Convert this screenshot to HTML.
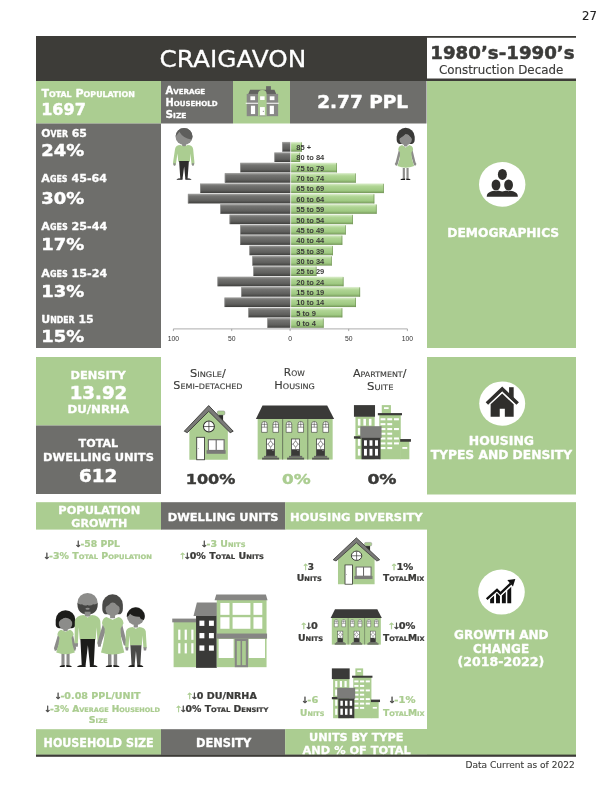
<!DOCTYPE html>
<html><head><meta charset="utf-8"><title>Craigavon</title>
<style>
html,body{margin:0;padding:0;background:#fff;}
body{width:612px;height:792px;overflow:hidden;}
svg{display:block;}
text{font-family:"DejaVu Sans","Liberation Sans",sans-serif;white-space:pre;}
.cal{font-family:"Liberation Sans","DejaVu Sans",sans-serif;}
</style></head><body>
<svg width="612" height="792" viewBox="0 0 612 792">
<rect x="36" y="36" width="392" height="45" fill="#3d3c38" />
<rect x="427" y="36" width="149" height="45" fill="#3d3c38" />
<rect x="427" y="37.8" width="149" height="40.7" fill="#fff" />
<rect x="36" y="81" width="125" height="42.5" fill="#abcd91" />
<rect x="161" y="81" width="72" height="42.5" fill="#6e6e6b" />
<rect x="233" y="81" width="57" height="42.5" fill="#abcd91" />
<rect x="290" y="81" width="136.5" height="42.5" fill="#6e6e6b" />
<rect x="36" y="123.5" width="125" height="224.5" fill="#6e6e6b" />
<rect x="427" y="81" width="149" height="267" fill="#abcd91" />
<rect x="36" y="357" width="125" height="68.5" fill="#abcd91" />
<rect x="36" y="425.5" width="125" height="68.5" fill="#6e6e6b" />
<rect x="427" y="357" width="149" height="137.5" fill="#abcd91" />
<rect x="36" y="502.2" width="125.5" height="27.4" fill="#abcd91" />
<rect x="161" y="502.2" width="124.3" height="27.4" fill="#6e6e6b" />
<rect x="285.2" y="502.2" width="290.8" height="27.4" fill="#abcd91" />
<rect x="427" y="529" width="149" height="226" fill="#abcd91" />
<rect x="36" y="729.2" width="125.5" height="25.6" fill="#abcd91" />
<rect x="161" y="729.2" width="124.3" height="25.6" fill="#6e6e6b" />
<rect x="285.2" y="729" width="290.8" height="25.8" fill="#abcd91" />
<rect x="36" y="754.6" width="540" height="2.2" fill="#3d3c38" />
<text x="582.0" y="19.7" font-size="12" font-weight="normal" fill="#222" stroke="#222" stroke-width="0.14" stroke-linejoin="round" textLength="14.9" lengthAdjust="spacingAndGlyphs">27</text>
<text x="159.4" y="67.3" font-size="23.5" font-weight="normal" fill="#fff" stroke="#fff" stroke-width="0.28" stroke-linejoin="round" textLength="147.0" lengthAdjust="spacingAndGlyphs">CRAIGAVON</text>
<text x="430.3" y="59.0" font-size="17.5" font-weight="bold" fill="#3b3b39" stroke="#3b3b39" stroke-width="0.49" stroke-linejoin="round" textLength="144.3" lengthAdjust="spacingAndGlyphs">1980’s-1990’s</text>
<text x="438.9" y="74.3" font-size="12.5" font-weight="normal" fill="#3b3b39" stroke="#3b3b39" stroke-width="0.15" stroke-linejoin="round" textLength="124.4" lengthAdjust="spacingAndGlyphs">Construction Decade</text>
<text x="41.4" y="97.0" font-size="11" font-weight="bold" fill="#fff" stroke="#fff" stroke-width="0.31" stroke-linejoin="round" textLength="93.4" lengthAdjust="spacingAndGlyphs">T<tspan font-size="7.86">OTAL</tspan> P<tspan font-size="7.86">OPULATION</tspan></text>
<text x="41.2" y="115.4" font-size="15.2" font-weight="bold" fill="#fff" stroke="#fff" stroke-width="0.43" stroke-linejoin="round" textLength="44.6" lengthAdjust="spacingAndGlyphs">1697</text>
<text x="165.5" y="93.7" font-size="9.6" font-weight="bold" fill="#fff" stroke="#fff" stroke-width="0.27" stroke-linejoin="round" textLength="39.7" lengthAdjust="spacingAndGlyphs">A<tspan font-size="6.86">VERAGE</tspan></text>
<text x="165.5" y="106.0" font-size="9.6" font-weight="bold" fill="#fff" stroke="#fff" stroke-width="0.27" stroke-linejoin="round" textLength="52.0" lengthAdjust="spacingAndGlyphs">H<tspan font-size="6.86">OUSEHOLD</tspan></text>
<text x="165.5" y="117.7" font-size="9.6" font-weight="bold" fill="#fff" stroke="#fff" stroke-width="0.27" stroke-linejoin="round" textLength="21.0" lengthAdjust="spacingAndGlyphs">S<tspan font-size="6.86">IZE</tspan></text>
<text x="317.3" y="108.4" font-size="17.5" font-weight="bold" fill="#fff" stroke="#fff" stroke-width="0.49" stroke-linejoin="round" textLength="90.6" lengthAdjust="spacingAndGlyphs">2.77 PPL</text>
<text x="41.3" y="136.8" font-size="11.3" font-weight="bold" fill="#fff" stroke="#fff" stroke-width="0.32" stroke-linejoin="round" textLength="45.6" lengthAdjust="spacingAndGlyphs">O<tspan font-size="8.08">VER</tspan> 65</text>
<text x="41.2" y="155.9" font-size="16.2" font-weight="bold" fill="#fff" stroke="#fff" stroke-width="0.45" stroke-linejoin="round" textLength="42.9" lengthAdjust="spacingAndGlyphs">24%</text>
<text x="41.3" y="182.1" font-size="11.3" font-weight="bold" fill="#fff" stroke="#fff" stroke-width="0.32" stroke-linejoin="round" textLength="65.7" lengthAdjust="spacingAndGlyphs">A<tspan font-size="8.08">GES</tspan> 45-64</text>
<text x="41.2" y="204.2" font-size="16.2" font-weight="bold" fill="#fff" stroke="#fff" stroke-width="0.45" stroke-linejoin="round" textLength="42.9" lengthAdjust="spacingAndGlyphs">30%</text>
<text x="41.3" y="230.1" font-size="11.3" font-weight="bold" fill="#fff" stroke="#fff" stroke-width="0.32" stroke-linejoin="round" textLength="65.9" lengthAdjust="spacingAndGlyphs">A<tspan font-size="8.08">GES</tspan> 25-44</text>
<text x="41.2" y="250.0" font-size="16.2" font-weight="bold" fill="#fff" stroke="#fff" stroke-width="0.45" stroke-linejoin="round" textLength="42.9" lengthAdjust="spacingAndGlyphs">17%</text>
<text x="41.3" y="276.9" font-size="11.3" font-weight="bold" fill="#fff" stroke="#fff" stroke-width="0.32" stroke-linejoin="round" textLength="65.9" lengthAdjust="spacingAndGlyphs">A<tspan font-size="8.08">GES</tspan> 15-24</text>
<text x="41.2" y="297.0" font-size="16.2" font-weight="bold" fill="#fff" stroke="#fff" stroke-width="0.45" stroke-linejoin="round" textLength="42.9" lengthAdjust="spacingAndGlyphs">13%</text>
<text x="41.3" y="322.7" font-size="11.3" font-weight="bold" fill="#fff" stroke="#fff" stroke-width="0.32" stroke-linejoin="round" textLength="52.4" lengthAdjust="spacingAndGlyphs">U<tspan font-size="8.08">NDER</tspan> 15</text>
<text x="41.2" y="341.9" font-size="16.2" font-weight="bold" fill="#fff" stroke="#fff" stroke-width="0.45" stroke-linejoin="round" textLength="42.9" lengthAdjust="spacingAndGlyphs">15%</text>
<text x="447.3" y="237.2" font-size="12" font-weight="bold" fill="#fff" stroke="#fff" stroke-width="0.34" stroke-linejoin="round" textLength="111.9" lengthAdjust="spacingAndGlyphs">DEMOGRAPHICS</text>
<text x="70.5" y="378.8" font-size="11.2" font-weight="bold" fill="#fff" stroke="#fff" stroke-width="0.31" stroke-linejoin="round" textLength="55.2" lengthAdjust="spacingAndGlyphs">DENSITY</text>
<text x="69.7" y="399.4" font-size="17.5" font-weight="bold" fill="#fff" stroke="#fff" stroke-width="0.49" stroke-linejoin="round" textLength="57.5" lengthAdjust="spacingAndGlyphs">13.92</text>
<text x="67.5" y="412.9" font-size="11.3" font-weight="bold" fill="#fff" stroke="#fff" stroke-width="0.32" stroke-linejoin="round" textLength="61.5" lengthAdjust="spacingAndGlyphs">DU/NRHA</text>
<text x="78.6" y="447.3" font-size="11.2" font-weight="bold" fill="#fff" stroke="#fff" stroke-width="0.31" stroke-linejoin="round" textLength="39.5" lengthAdjust="spacingAndGlyphs">TOTAL</text>
<text x="43.1" y="461.0" font-size="11.2" font-weight="bold" fill="#fff" stroke="#fff" stroke-width="0.31" stroke-linejoin="round" textLength="110.8" lengthAdjust="spacingAndGlyphs">DWELLING UNITS</text>
<text x="79.1" y="482.3" font-size="17" font-weight="bold" fill="#fff" stroke="#fff" stroke-width="0.48" stroke-linejoin="round" textLength="38.2" lengthAdjust="spacingAndGlyphs">612</text>
<text x="190.0" y="376.8" font-size="10.6" font-weight="normal" fill="#3b3b39" stroke="#3b3b39" stroke-width="0.13" stroke-linejoin="round" textLength="35.8" lengthAdjust="spacingAndGlyphs">S<tspan font-size="7.58">INGLE</tspan>/</text>
<text x="173.3" y="389.4" font-size="10.6" font-weight="normal" fill="#3b3b39" stroke="#3b3b39" stroke-width="0.13" stroke-linejoin="round" textLength="69.2" lengthAdjust="spacingAndGlyphs">S<tspan font-size="7.58">EMI</tspan>-<tspan font-size="7.58">DETACHED</tspan></text>
<text x="283.8" y="375.6" font-size="10.6" font-weight="normal" fill="#3b3b39" stroke="#3b3b39" stroke-width="0.13" stroke-linejoin="round" textLength="21.0" lengthAdjust="spacingAndGlyphs">R<tspan font-size="7.58">OW</tspan></text>
<text x="274.3" y="389.3" font-size="10.6" font-weight="normal" fill="#3b3b39" stroke="#3b3b39" stroke-width="0.13" stroke-linejoin="round" textLength="40.6" lengthAdjust="spacingAndGlyphs">H<tspan font-size="7.58">OUSING</tspan></text>
<text x="352.9" y="376.8" font-size="10.6" font-weight="normal" fill="#3b3b39" stroke="#3b3b39" stroke-width="0.13" stroke-linejoin="round" textLength="53.6" lengthAdjust="spacingAndGlyphs">A<tspan font-size="7.58">PARTMENT</tspan>/</text>
<text x="367.0" y="389.5" font-size="10.6" font-weight="normal" fill="#3b3b39" stroke="#3b3b39" stroke-width="0.13" stroke-linejoin="round" textLength="26.5" lengthAdjust="spacingAndGlyphs">S<tspan font-size="7.58">UITE</tspan></text>
<text x="185.7" y="483.8" font-size="14.5" font-weight="bold" fill="#3b3b39" stroke="#3b3b39" stroke-width="0.41" stroke-linejoin="round" textLength="49.8" lengthAdjust="spacingAndGlyphs">100%</text>
<text x="281.9" y="483.8" font-size="14.5" font-weight="bold" fill="#abcd91" stroke="#abcd91" stroke-width="0.41" stroke-linejoin="round" textLength="28.7" lengthAdjust="spacingAndGlyphs">0%</text>
<text x="367.4" y="483.8" font-size="14.5" font-weight="bold" fill="#3b3b39" stroke="#3b3b39" stroke-width="0.41" stroke-linejoin="round" textLength="29.2" lengthAdjust="spacingAndGlyphs">0%</text>
<text x="468.8" y="445.0" font-size="12" font-weight="bold" fill="#fff" stroke="#fff" stroke-width="0.34" stroke-linejoin="round" textLength="65.2" lengthAdjust="spacingAndGlyphs">HOUSING</text>
<text x="430.7" y="458.8" font-size="12" font-weight="bold" fill="#fff" stroke="#fff" stroke-width="0.34" stroke-linejoin="round" textLength="141.4" lengthAdjust="spacingAndGlyphs">TYPES AND DENSITY</text>
<text x="58.3" y="513.9" font-size="11.2" font-weight="bold" fill="#fff" stroke="#fff" stroke-width="0.31" stroke-linejoin="round" textLength="81.9" lengthAdjust="spacingAndGlyphs">POPULATION</text>
<text x="71.3" y="526.9" font-size="11.2" font-weight="bold" fill="#fff" stroke="#fff" stroke-width="0.31" stroke-linejoin="round" textLength="56.1" lengthAdjust="spacingAndGlyphs">GROWTH</text>
<text x="167.7" y="520.5" font-size="11.2" font-weight="bold" fill="#fff" stroke="#fff" stroke-width="0.31" stroke-linejoin="round" textLength="110.8" lengthAdjust="spacingAndGlyphs">DWELLING UNITS</text>
<text x="290.1" y="520.6" font-size="11.2" font-weight="bold" fill="#fff" stroke="#fff" stroke-width="0.31" stroke-linejoin="round" textLength="132.5" lengthAdjust="spacingAndGlyphs">HOUSING DIVERSITY</text>
<text x="43.6" y="746.9" font-size="11.5" font-weight="bold" fill="#fff" stroke="#fff" stroke-width="0.32" stroke-linejoin="round" textLength="110.1" lengthAdjust="spacingAndGlyphs">HOUSEHOLD SIZE</text>
<text x="196.0" y="746.9" font-size="11.5" font-weight="bold" fill="#fff" stroke="#fff" stroke-width="0.32" stroke-linejoin="round" textLength="55.4" lengthAdjust="spacingAndGlyphs">DENSITY</text>
<text x="309.1" y="741.2" font-size="11.2" font-weight="bold" fill="#fff" stroke="#fff" stroke-width="0.31" stroke-linejoin="round" textLength="94.4" lengthAdjust="spacingAndGlyphs">UNITS BY TYPE</text>
<text x="302.6" y="753.9" font-size="11.2" font-weight="bold" fill="#fff" stroke="#fff" stroke-width="0.31" stroke-linejoin="round" textLength="108.2" lengthAdjust="spacingAndGlyphs">AND % OF TOTAL</text>
<text x="454.0" y="639.2" font-size="12" font-weight="bold" fill="#fff" stroke="#fff" stroke-width="0.34" stroke-linejoin="round" textLength="94.6" lengthAdjust="spacingAndGlyphs">GROWTH AND</text>
<text x="473.1" y="652.9" font-size="12" font-weight="bold" fill="#fff" stroke="#fff" stroke-width="0.34" stroke-linejoin="round" textLength="56.0" lengthAdjust="spacingAndGlyphs">CHANGE</text>
<text x="457.4" y="666.3" font-size="12" font-weight="bold" fill="#fff" stroke="#fff" stroke-width="0.34" stroke-linejoin="round" textLength="86.9" lengthAdjust="spacingAndGlyphs">(2018-2022)</text>
<text x="465.5" y="767.8" font-size="9" font-weight="normal" fill="#3b3b39" stroke="#3b3b39" stroke-width="0.11" stroke-linejoin="round" textLength="109.2" lengthAdjust="spacingAndGlyphs">Data Current as of 2022</text>
<text x="76.1" y="547.0" font-size="8.7" font-weight="bold" fill="#abcd91" stroke="#abcd91" stroke-width="0.24" stroke-linejoin="round" textLength="45.5" lengthAdjust="spacingAndGlyphs"><tspan fill="#3b3b39" stroke="#3b3b39" stroke-width="0.3" font-weight="normal" font-size="8.44" dx="-1.6">↓</tspan><tspan dx="-1.5">-58 PPL</tspan></text>
<text x="44.6" y="559.3" font-size="8.7" font-weight="bold" fill="#abcd91" stroke="#abcd91" stroke-width="0.24" stroke-linejoin="round" textLength="108.9" lengthAdjust="spacingAndGlyphs"><tspan fill="#3b3b39" stroke="#3b3b39" stroke-width="0.3" font-weight="normal" font-size="8.44" dx="-1.6">↓</tspan><tspan dx="-1.5">-3% T<tspan font-size="6.22">OTAL</tspan> P<tspan font-size="6.22">OPULATION</tspan></tspan></text>
<text x="202.2" y="546.8" font-size="8.7" font-weight="bold" fill="#abcd91" stroke="#abcd91" stroke-width="0.24" stroke-linejoin="round" textLength="44.9" lengthAdjust="spacingAndGlyphs"><tspan fill="#3b3b39" stroke="#3b3b39" stroke-width="0.3" font-weight="normal" font-size="8.44" dx="-1.6">↓</tspan><tspan dx="-1.5">-3 U<tspan font-size="6.22">NITS</tspan></tspan></text>
<text x="180.3" y="559.4" font-size="8.7" font-weight="bold" fill="#3b3b39" stroke="#3b3b39" stroke-width="0.24" stroke-linejoin="round" textLength="85.3" lengthAdjust="spacingAndGlyphs"><tspan fill="#abcd91" stroke="#abcd91" stroke-width="0.3" font-weight="normal" font-size="8.44" dx="-1.6">↑</tspan><tspan fill="#3b3b39" stroke="#3b3b39" stroke-width="0.3" font-weight="normal" font-size="8.44" dx="-2.6">↓</tspan><tspan dx="-1.5">0% T<tspan font-size="6.22">OTAL</tspan> U<tspan font-size="6.22">NITS</tspan></tspan></text>
<text x="55.9" y="699.1" font-size="8.7" font-weight="bold" fill="#abcd91" stroke="#abcd91" stroke-width="0.24" stroke-linejoin="round" textLength="86.3" lengthAdjust="spacingAndGlyphs"><tspan fill="#3b3b39" stroke="#3b3b39" stroke-width="0.3" font-weight="normal" font-size="8.44" dx="-1.6">↓</tspan><tspan dx="-1.5">-0.08 PPL/UNIT</tspan></text>
<text x="45.7" y="711.9" font-size="8.7" font-weight="bold" fill="#abcd91" stroke="#abcd91" stroke-width="0.24" stroke-linejoin="round" textLength="115.7" lengthAdjust="spacingAndGlyphs"><tspan fill="#3b3b39" stroke="#3b3b39" stroke-width="0.3" font-weight="normal" font-size="8.44" dx="-1.6">↓</tspan><tspan dx="-1.5">-3% A<tspan font-size="6.22">VERAGE</tspan> H<tspan font-size="6.22">OUSEHOLD</tspan></tspan></text>
<text x="88.8" y="722.5" font-size="8.7" font-weight="bold" fill="#abcd91" stroke="#abcd91" stroke-width="0.24" stroke-linejoin="round" textLength="18.9" lengthAdjust="spacingAndGlyphs">S<tspan font-size="6.22">IZE</tspan></text>
<text x="187.3" y="699.1" font-size="8.7" font-weight="bold" fill="#3b3b39" stroke="#3b3b39" stroke-width="0.24" stroke-linejoin="round" textLength="71.1" lengthAdjust="spacingAndGlyphs"><tspan fill="#abcd91" stroke="#abcd91" stroke-width="0.3" font-weight="normal" font-size="8.44" dx="-1.6">↑</tspan><tspan fill="#3b3b39" stroke="#3b3b39" stroke-width="0.3" font-weight="normal" font-size="8.44" dx="-2.6">↓</tspan><tspan dx="-1.5">0 DU/NRHA</tspan></text>
<text x="176.3" y="711.9" font-size="8.7" font-weight="bold" fill="#3b3b39" stroke="#3b3b39" stroke-width="0.24" stroke-linejoin="round" textLength="93.6" lengthAdjust="spacingAndGlyphs"><tspan fill="#abcd91" stroke="#abcd91" stroke-width="0.3" font-weight="normal" font-size="8.44" dx="-1.6">↑</tspan><tspan fill="#3b3b39" stroke="#3b3b39" stroke-width="0.3" font-weight="normal" font-size="8.44" dx="-2.6">↓</tspan><tspan dx="-1.5">0% T<tspan font-size="6.22">OTAL</tspan> D<tspan font-size="6.22">ENSITY</tspan></tspan></text>
<text x="303.7" y="569.5" font-size="8.7" font-weight="bold" fill="#3b3b39" stroke="#3b3b39" stroke-width="0.24" stroke-linejoin="round" textLength="11.9" lengthAdjust="spacingAndGlyphs"><tspan fill="#abcd91" stroke="#abcd91" stroke-width="0.3" font-weight="normal" font-size="8.44" dx="-1.6">↑</tspan><tspan dx="-1.5">3</tspan></text>
<text x="296.7" y="580.8" font-size="8.7" font-weight="bold" fill="#3b3b39" stroke="#3b3b39" stroke-width="0.24" stroke-linejoin="round" textLength="25.1" lengthAdjust="spacingAndGlyphs">U<tspan font-size="6.22">NITS</tspan></text>
<text x="391.6" y="569.5" font-size="8.7" font-weight="bold" fill="#3b3b39" stroke="#3b3b39" stroke-width="0.24" stroke-linejoin="round" textLength="23.4" lengthAdjust="spacingAndGlyphs"><tspan fill="#abcd91" stroke="#abcd91" stroke-width="0.3" font-weight="normal" font-size="8.44" dx="-1.6">↑</tspan><tspan dx="-1.5">1%</tspan></text>
<text x="383.0" y="580.8" font-size="8.7" font-weight="bold" fill="#3b3b39" stroke="#3b3b39" stroke-width="0.24" stroke-linejoin="round" textLength="41.3" lengthAdjust="spacingAndGlyphs">T<tspan font-size="6.22">OTAL</tspan>M<tspan font-size="6.22">IX</tspan></text>
<text x="301.4" y="629.3" font-size="8.7" font-weight="bold" fill="#3b3b39" stroke="#3b3b39" stroke-width="0.24" stroke-linejoin="round" textLength="18.1" lengthAdjust="spacingAndGlyphs"><tspan fill="#abcd91" stroke="#abcd91" stroke-width="0.3" font-weight="normal" font-size="8.44" dx="-1.6">↑</tspan><tspan fill="#3b3b39" stroke="#3b3b39" stroke-width="0.3" font-weight="normal" font-size="8.44" dx="-2.6">↓</tspan><tspan dx="-1.5">0</tspan></text>
<text x="298.0" y="640.5" font-size="8.7" font-weight="bold" fill="#3b3b39" stroke="#3b3b39" stroke-width="0.24" stroke-linejoin="round" textLength="25.1" lengthAdjust="spacingAndGlyphs">U<tspan font-size="6.22">NITS</tspan></text>
<text x="389.0" y="629.3" font-size="8.7" font-weight="bold" fill="#3b3b39" stroke="#3b3b39" stroke-width="0.24" stroke-linejoin="round" textLength="28.1" lengthAdjust="spacingAndGlyphs"><tspan fill="#abcd91" stroke="#abcd91" stroke-width="0.3" font-weight="normal" font-size="8.44" dx="-1.6">↑</tspan><tspan fill="#3b3b39" stroke="#3b3b39" stroke-width="0.3" font-weight="normal" font-size="8.44" dx="-2.6">↓</tspan><tspan dx="-1.5">0%</tspan></text>
<text x="383.0" y="640.5" font-size="8.7" font-weight="bold" fill="#3b3b39" stroke="#3b3b39" stroke-width="0.24" stroke-linejoin="round" textLength="41.5" lengthAdjust="spacingAndGlyphs">T<tspan font-size="6.22">OTAL</tspan>M<tspan font-size="6.22">IX</tspan></text>
<text x="302.7" y="703.3" font-size="8.7" font-weight="bold" fill="#abcd91" stroke="#abcd91" stroke-width="0.24" stroke-linejoin="round" textLength="17.1" lengthAdjust="spacingAndGlyphs"><tspan fill="#3b3b39" stroke="#3b3b39" stroke-width="0.3" font-weight="normal" font-size="8.44" dx="-1.6">↓</tspan><tspan dx="-1.5">-6</tspan></text>
<text x="300.1" y="716.3" font-size="8.7" font-weight="bold" fill="#abcd91" stroke="#abcd91" stroke-width="0.24" stroke-linejoin="round" textLength="24.3" lengthAdjust="spacingAndGlyphs">U<tspan font-size="6.22">NITS</tspan></text>
<text x="389.5" y="703.3" font-size="8.7" font-weight="bold" fill="#abcd91" stroke="#abcd91" stroke-width="0.24" stroke-linejoin="round" textLength="27.6" lengthAdjust="spacingAndGlyphs"><tspan fill="#3b3b39" stroke="#3b3b39" stroke-width="0.3" font-weight="normal" font-size="8.44" dx="-1.6">↓</tspan><tspan dx="-1.5">-1%</tspan></text>
<text x="383.0" y="716.3" font-size="8.7" font-weight="bold" fill="#abcd91" stroke="#abcd91" stroke-width="0.24" stroke-linejoin="round" textLength="41.5" lengthAdjust="spacingAndGlyphs">T<tspan font-size="6.22">OTAL</tspan>M<tspan font-size="6.22">IX</tspan></text>
<defs>
<linearGradient id="gm" x1="0" y1="0" x2="0" y2="1"><stop offset="0" stop-color="#b0b0ae"/><stop offset="0.12" stop-color="#8a8a88"/><stop offset="0.25" stop-color="#737371"/><stop offset="0.7" stop-color="#5f5f5d"/><stop offset="0.9" stop-color="#4a4a48"/><stop offset="1" stop-color="#3a3a38"/></linearGradient>
<linearGradient id="gf" x1="0" y1="0" x2="0" y2="1"><stop offset="0" stop-color="#e4f2d8"/><stop offset="0.14" stop-color="#c6e2b0"/><stop offset="0.3" stop-color="#b0d594"/><stop offset="0.72" stop-color="#9fc982"/><stop offset="0.9" stop-color="#85ab68"/><stop offset="1" stop-color="#6d9052"/></linearGradient>
</defs>
<rect x="282.2" y="141.90" width="8.1" height="9.75" fill="url(#gm)"/>
<rect x="282.2" y="142.40" width="0.7" height="8.95" fill="#9a9a98" opacity="0.8"/>
<rect x="291.1" y="141.90" width="10.8" height="9.75" fill="url(#gf)"/>
<rect x="301.2" y="142.40" width="0.7" height="9.25" fill="#6d9052" opacity="0.85"/>
<text class="cal" x="296.3" y="150.00" font-size="7.5" font-weight="bold" fill="#3c3c3a">85 +</text>
<rect x="274.4" y="152.26" width="15.9" height="9.75" fill="url(#gm)"/>
<rect x="274.4" y="152.76" width="0.7" height="8.95" fill="#9a9a98" opacity="0.8"/>
<rect x="291.1" y="152.26" width="9.0" height="9.75" fill="url(#gf)"/>
<rect x="299.4" y="152.76" width="0.7" height="9.25" fill="#6d9052" opacity="0.85"/>
<text class="cal" x="296.3" y="160.36" font-size="7.5" font-weight="bold" fill="#3c3c3a">80 to 84</text>
<rect x="240.2" y="162.62" width="50.1" height="9.75" fill="url(#gm)"/>
<rect x="240.2" y="163.12" width="0.7" height="8.95" fill="#9a9a98" opacity="0.8"/>
<rect x="291.1" y="162.62" width="45.9" height="9.75" fill="url(#gf)"/>
<rect x="336.3" y="163.12" width="0.7" height="9.25" fill="#6d9052" opacity="0.85"/>
<text class="cal" x="296.3" y="170.72" font-size="7.5" font-weight="bold" fill="#3c3c3a">75 to 79</text>
<rect x="224.8" y="172.98" width="65.5" height="9.75" fill="url(#gm)"/>
<rect x="224.8" y="173.48" width="0.7" height="8.95" fill="#9a9a98" opacity="0.8"/>
<rect x="291.1" y="172.98" width="64.6" height="9.75" fill="url(#gf)"/>
<rect x="355.0" y="173.48" width="0.7" height="9.25" fill="#6d9052" opacity="0.85"/>
<text class="cal" x="296.3" y="181.08" font-size="7.5" font-weight="bold" fill="#3c3c3a">70 to 74</text>
<rect x="200.1" y="183.34" width="90.2" height="9.75" fill="url(#gm)"/>
<rect x="200.1" y="183.84" width="0.7" height="8.95" fill="#9a9a98" opacity="0.8"/>
<rect x="291.1" y="183.34" width="92.7" height="9.75" fill="url(#gf)"/>
<rect x="383.1" y="183.84" width="0.7" height="9.25" fill="#6d9052" opacity="0.85"/>
<text class="cal" x="296.3" y="191.44" font-size="7.5" font-weight="bold" fill="#3c3c3a">65 to 69</text>
<rect x="187.9" y="193.70" width="102.4" height="9.75" fill="url(#gm)"/>
<rect x="187.9" y="194.20" width="0.7" height="8.95" fill="#9a9a98" opacity="0.8"/>
<rect x="291.1" y="193.70" width="83.2" height="9.75" fill="url(#gf)"/>
<rect x="373.6" y="194.20" width="0.7" height="9.25" fill="#6d9052" opacity="0.85"/>
<text class="cal" x="296.3" y="201.80" font-size="7.5" font-weight="bold" fill="#3c3c3a">60 to 64</text>
<rect x="220.3" y="204.06" width="70.0" height="9.75" fill="url(#gm)"/>
<rect x="220.3" y="204.56" width="0.7" height="8.95" fill="#9a9a98" opacity="0.8"/>
<rect x="291.1" y="204.06" width="85.5" height="9.75" fill="url(#gf)"/>
<rect x="375.9" y="204.56" width="0.7" height="9.25" fill="#6d9052" opacity="0.85"/>
<text class="cal" x="296.3" y="212.16" font-size="7.5" font-weight="bold" fill="#3c3c3a">55 to 59</text>
<rect x="229.6" y="214.42" width="60.7" height="9.75" fill="url(#gm)"/>
<rect x="229.6" y="214.92" width="0.7" height="8.95" fill="#9a9a98" opacity="0.8"/>
<rect x="291.1" y="214.42" width="61.8" height="9.75" fill="url(#gf)"/>
<rect x="352.2" y="214.92" width="0.7" height="9.25" fill="#6d9052" opacity="0.85"/>
<text class="cal" x="296.3" y="222.52" font-size="7.5" font-weight="bold" fill="#3c3c3a">50 to 54</text>
<rect x="240.2" y="224.78" width="50.1" height="9.75" fill="url(#gm)"/>
<rect x="240.2" y="225.28" width="0.7" height="8.95" fill="#9a9a98" opacity="0.8"/>
<rect x="291.1" y="224.78" width="54.6" height="9.75" fill="url(#gf)"/>
<rect x="345.0" y="225.28" width="0.7" height="9.25" fill="#6d9052" opacity="0.85"/>
<text class="cal" x="296.3" y="232.88" font-size="7.5" font-weight="bold" fill="#3c3c3a">45 to 49</text>
<rect x="240.1" y="235.14" width="50.2" height="9.75" fill="url(#gm)"/>
<rect x="240.1" y="235.64" width="0.7" height="8.95" fill="#9a9a98" opacity="0.8"/>
<rect x="291.1" y="235.14" width="51.2" height="9.75" fill="url(#gf)"/>
<rect x="341.6" y="235.64" width="0.7" height="9.25" fill="#6d9052" opacity="0.85"/>
<text class="cal" x="296.3" y="243.24" font-size="7.5" font-weight="bold" fill="#3c3c3a">40 to 44</text>
<rect x="249.4" y="245.50" width="40.9" height="9.75" fill="url(#gm)"/>
<rect x="249.4" y="246.00" width="0.7" height="8.95" fill="#9a9a98" opacity="0.8"/>
<rect x="291.1" y="245.50" width="41.8" height="9.75" fill="url(#gf)"/>
<rect x="332.2" y="246.00" width="0.7" height="9.25" fill="#6d9052" opacity="0.85"/>
<text class="cal" x="296.3" y="253.60" font-size="7.5" font-weight="bold" fill="#3c3c3a">35 to 39</text>
<rect x="252.3" y="255.86" width="38.0" height="9.75" fill="url(#gm)"/>
<rect x="252.3" y="256.36" width="0.7" height="8.95" fill="#9a9a98" opacity="0.8"/>
<rect x="291.1" y="255.86" width="40.6" height="9.75" fill="url(#gf)"/>
<rect x="331.0" y="256.36" width="0.7" height="9.25" fill="#6d9052" opacity="0.85"/>
<text class="cal" x="296.3" y="263.96" font-size="7.5" font-weight="bold" fill="#3c3c3a">30 to 34</text>
<rect x="253.3" y="266.22" width="37.0" height="9.75" fill="url(#gm)"/>
<rect x="253.3" y="266.72" width="0.7" height="8.95" fill="#9a9a98" opacity="0.8"/>
<rect x="291.1" y="266.22" width="25.4" height="9.75" fill="url(#gf)"/>
<rect x="315.8" y="266.72" width="0.7" height="9.25" fill="#6d9052" opacity="0.85"/>
<text class="cal" x="296.3" y="274.32" font-size="7.5" font-weight="bold" fill="#3c3c3a">25 to 29</text>
<rect x="217.5" y="276.58" width="72.8" height="9.75" fill="url(#gm)"/>
<rect x="217.5" y="277.08" width="0.7" height="8.95" fill="#9a9a98" opacity="0.8"/>
<rect x="291.1" y="276.58" width="52.4" height="9.75" fill="url(#gf)"/>
<rect x="342.8" y="277.08" width="0.7" height="9.25" fill="#6d9052" opacity="0.85"/>
<text class="cal" x="296.3" y="284.68" font-size="7.5" font-weight="bold" fill="#3c3c3a">20 to 24</text>
<rect x="241.2" y="286.94" width="49.1" height="9.75" fill="url(#gm)"/>
<rect x="241.2" y="287.44" width="0.7" height="8.95" fill="#9a9a98" opacity="0.8"/>
<rect x="291.1" y="286.94" width="69.0" height="9.75" fill="url(#gf)"/>
<rect x="359.4" y="287.44" width="0.7" height="9.25" fill="#6d9052" opacity="0.85"/>
<text class="cal" x="296.3" y="295.04" font-size="7.5" font-weight="bold" fill="#3c3c3a">15 to 19</text>
<rect x="224.5" y="297.30" width="65.8" height="9.75" fill="url(#gm)"/>
<rect x="224.5" y="297.80" width="0.7" height="8.95" fill="#9a9a98" opacity="0.8"/>
<rect x="291.1" y="297.30" width="64.9" height="9.75" fill="url(#gf)"/>
<rect x="355.3" y="297.80" width="0.7" height="9.25" fill="#6d9052" opacity="0.85"/>
<text class="cal" x="296.3" y="305.40" font-size="7.5" font-weight="bold" fill="#3c3c3a">10 to 14</text>
<rect x="248.3" y="307.66" width="42.0" height="9.75" fill="url(#gm)"/>
<rect x="248.3" y="308.16" width="0.7" height="8.95" fill="#9a9a98" opacity="0.8"/>
<rect x="291.1" y="307.66" width="51.2" height="9.75" fill="url(#gf)"/>
<rect x="341.6" y="308.16" width="0.7" height="9.25" fill="#6d9052" opacity="0.85"/>
<text class="cal" x="296.3" y="315.76" font-size="7.5" font-weight="bold" fill="#3c3c3a">5 to 9</text>
<rect x="267.3" y="318.02" width="23.0" height="9.75" fill="url(#gm)"/>
<rect x="267.3" y="318.52" width="0.7" height="8.95" fill="#9a9a98" opacity="0.8"/>
<rect x="291.1" y="318.02" width="32.5" height="9.75" fill="url(#gf)"/>
<rect x="322.9" y="318.52" width="0.7" height="9.25" fill="#6d9052" opacity="0.85"/>
<text class="cal" x="296.3" y="326.12" font-size="7.5" font-weight="bold" fill="#3c3c3a">0 to 4</text>
<path d="M173.4 328.9H407.4M173.4 328.9v2.2M231.7 328.9v2.2M290.1 328.9v2.2M348.7 328.9v2.2M407.4 328.9v2.2" stroke="#8a8a8a" stroke-width="0.7" fill="none"/>
<text class="cal" x="173.4" y="341.4" font-size="6.8" text-anchor="middle" fill="#333">100</text>
<text class="cal" x="231.7" y="341.4" font-size="6.8" text-anchor="middle" fill="#333">50</text>
<text class="cal" x="290.1" y="341.4" font-size="6.8" text-anchor="middle" fill="#333">0</text>
<text class="cal" x="348.7" y="341.4" font-size="6.8" text-anchor="middle" fill="#333">50</text>
<text class="cal" x="407.4" y="341.4" font-size="6.8" text-anchor="middle" fill="#333">100</text>
<g transform="translate(230.00,78.00) scale(0.10458,0.10458)">
<rect x="345" y="78" width="46" height="40" fill="#6a6a68"/>
<path d="M192 112H425L442 152H175Z" fill="#626260"/>
<rect x="160" y="152" width="300" height="213" fill="#888886"/>
<path d="M268 365V150Q268 118 309 115Q350 118 350 150V365Z" fill="#abcd91"/>
<path d="M150 237H268V247H150ZM350 237H466V247H350Z" fill="#fff"/>
<rect x="195" y="175" width="45" height="37" fill="#fff"/><rect x="288" y="175" width="43" height="35" fill="#fff"/><rect x="380" y="175" width="45" height="37" fill="#fff"/>
<rect x="200" y="265" width="40" height="80" fill="#fff"/><rect x="380" y="265" width="40" height="80" fill="#fff"/>
<rect x="287" y="278" width="46" height="80" fill="#fff"/><rect x="314" y="314" width="10" height="10" fill="#888886"/>
<rect x="278" y="358" width="64" height="8" fill="#9a9a98"/>
</g>
<g transform="translate(150.00,110.00) scale(0.10101,0.10101)">
<circle cx="337" cy="262" r="84" fill="#8c8c8a"/>
<path d="M253 262A84 84 0 0 1 421 262Q420 285 405 292Q330 280 290 215Q275 240 253 262Z" fill="#5e5e5c"/>
<rect x="318" y="335" width="38" height="30" fill="#8c8c8a"/>
<path d="M232 545L228 520 248 385Q255 350 300 347L337 362 374 347Q420 350 427 385L440 520 436 545 412 545 400 430 395 512H280L272 430 255 545Z" fill="#abcd91"/>
<path d="M230 528h24l-4 24h-14ZM414 528h24l-6 24h-14Z" fill="#8c8c8a"/>
<path d="M288 505H385L372 680H350L338 560 322 680H300Z" fill="#2e2e2c"/>
<path d="M262 690Q270 676 322 676V690ZM350 676Q400 676 412 690H350Z" fill="#222"/>
</g>
<g transform="translate(380.00,120.00) scale(0.09804,0.09804)">
<path d="M232 490H254V600H232ZM270 490H292V600H270Z" fill="#8c8c8a"/>
<path d="M208 611Q214 597 256 597V611ZM268 597Q306 597 312 611H268Z" fill="#1a1a1a"/>
<path d="M196 290L160 430 150 450 165 470 180 455 215 330ZM328 290L362 430 372 450 358 470 344 455 308 330Z" fill="#8c8c8a"/>
<path d="M170 172A92 92 0 0 1 354 172V205Q352 238 325 245H199Q172 238 170 205Z" fill="#3a3a38"/>
<ellipse cx="262" cy="200" rx="63" ry="56" fill="#8c8c8a"/>
<path d="M196 190Q240 170 275 128Q300 165 330 192Q330 120 262 110Q196 120 196 190Z" fill="#3a3a38"/>
<rect x="244" y="240" width="36" height="30" fill="#8c8c8a"/>
<path d="M225 255L262 280 300 255Q335 265 338 300L320 335Q318 400 348 470Q262 505 178 470Q208 400 205 335L186 300Q190 265 225 255Z" fill="#abcd91"/>
</g>
<ellipse cx="502.2" cy="184.4" rx="23.2" ry="22.4" fill="#fff"/>
<g transform="translate(472.00,155.00) scale(0.09804,0.09804)">
<path d="M150 425Q150 385 200 370L250 360 308 372 368 360 420 370Q468 385 468 425Z" fill="#2f2e2c"/>
<ellipse cx="245" cy="306" rx="52" ry="63" fill="#fff"/><ellipse cx="373" cy="306" rx="52" ry="63" fill="#fff"/>
<ellipse cx="245" cy="306" rx="45" ry="56" fill="#2f2e2c"/><ellipse cx="373" cy="306" rx="45" ry="56" fill="#2f2e2c"/>
<ellipse cx="310" cy="198" rx="53" ry="63" fill="#fff"/>
<ellipse cx="310" cy="198" rx="46" ry="56" fill="#2f2e2c"/>
</g>
<ellipse cx="502.2" cy="403.6" rx="23.0" ry="22.2" fill="#fff"/>
<g transform="translate(472.00,373.00) scale(0.09804,0.09804)">
<rect x="378" y="145" width="47" height="110" fill="#2f2e2c"/>
<path d="M308 210L190 320V445H283V365H335V445H425V320Z" fill="#2f2e2c"/>
<path d="M152 312L308 163 466 312" fill="none" stroke="#2f2e2c" stroke-width="36" stroke-linejoin="miter"/>
<path d="M176 322L308 196 442 322" fill="none" stroke="#fff" stroke-width="9"/>
</g>
<ellipse cx="501.5" cy="592.1" rx="23.3" ry="22.5" fill="#fff"/>
<g transform="translate(472.00,560.00) scale(0.09804,0.09804)">
<path d="M185 440V395L225 360V440ZM245 440V342L258 330 285 358V440ZM305 440V362L345 325V440ZM360 440V312L400 272V440Z" fill="#111"/>
<path d="M150 400L255 305 290 340 395 240" fill="none" stroke="#fff" stroke-width="46"/>
<path d="M150 400L255 305 290 340 395 240" fill="none" stroke="#111" stroke-width="24" stroke-linejoin="miter"/>
<path d="M360 205L442 193 418 270Z" fill="#111"/>
</g>
<g transform="translate(178.00,400.00) scale(0.10132,0.10132)">
<rect x="400" y="140" width="45" height="75" fill="#2e2e2c"/>
<rect x="388" y="108" width="74" height="40" rx="12" fill="#abcd91" stroke="#8a8a88" stroke-width="5"/>
<path d="M303 100L112 300V590H492V300Z" fill="#abcd91"/>
<path d="M303 55L62 308 92 322 303 112 515 322 545 308Z" fill="#7a7a78" stroke="#3a3a38" stroke-width="9" stroke-linejoin="round"/>
<circle cx="305" cy="262" r="54" fill="#fff" stroke="#2e2e2c" stroke-width="10"/>
<path d="M305 210V314M252 262H358" stroke="#2e2e2c" stroke-width="7" fill="none"/>
<rect x="185" y="368" width="77" height="222" fill="#fff" stroke="#2e2e2c" stroke-width="8"/>
<rect x="196" y="474" width="8" height="8" fill="#8a8a88"/>
<rect x="300" y="392" width="155" height="106" fill="#fff" stroke="#6a6a68" stroke-width="11"/>
<path d="M377 392V498" stroke="#6a6a68" stroke-width="11"/>
<rect x="282" y="495" width="188" height="36" fill="#7a7a78"/>
</g>
<g transform="translate(250.00,400.00) scale(0.14706,0.14706)"><rect x="52" y="125" width="510" height="280" fill="#abcd91"/><path d="M85 38H525L572 130H40Z" fill="#3a3a38"/><path d="M222 130V405M393 130V405" stroke="#3a3a38" stroke-width="4"/><path d="M79 220V165Q79 146 98 146Q117 146 117 165V220Z" fill="#fff" stroke="#3a3a38" stroke-width="4"/><path d="M79 185H117M98 146V185M79 166H117" stroke="#3a3a38" stroke-width="3.5" fill="none"/><path d="M156 220V165Q156 146 175 146Q194 146 194 165V220Z" fill="#fff" stroke="#3a3a38" stroke-width="4"/><path d="M156 185H194M175 146V185M156 166H194" stroke="#3a3a38" stroke-width="3.5" fill="none"/><path d="M246 220V165Q246 146 265 146Q284 146 284 165V220Z" fill="#fff" stroke="#3a3a38" stroke-width="4"/><path d="M246 185H284M265 146V185M246 166H284" stroke="#3a3a38" stroke-width="3.5" fill="none"/><path d="M326 220V165Q326 146 345 146Q364 146 364 165V220Z" fill="#fff" stroke="#3a3a38" stroke-width="4"/><path d="M326 185H364M345 146V185M326 166H364" stroke="#3a3a38" stroke-width="3.5" fill="none"/><path d="M418 220V165Q418 146 437 146Q456 146 456 165V220Z" fill="#fff" stroke="#3a3a38" stroke-width="4"/><path d="M418 185H456M437 146V185M418 166H456" stroke="#3a3a38" stroke-width="3.5" fill="none"/><path d="M496 220V165Q496 146 515 146Q534 146 534 165V220Z" fill="#fff" stroke="#3a3a38" stroke-width="4"/><path d="M496 185H534M515 146V185M496 166H534" stroke="#3a3a38" stroke-width="3.5" fill="none"/><rect x="113" y="265" width="54" height="115" fill="#fff" stroke="#3a3a38" stroke-width="5"/><rect x="113" y="335" width="54" height="45" fill="#3a3a38"/><path d="M140 278L157 300 140 322 123 300Z" fill="#fff" stroke="#3a3a38" stroke-width="4"/><path d="M113 300H123M157 300H167M140 265V278M140 322V335" stroke="#3a3a38" stroke-width="3"/><rect x="152" y="340" width="8" height="6" fill="#aaa"/><rect x="95" y="380" width="90" height="12" fill="#6a6a68"/><rect x="82" y="392" width="116" height="13" fill="#5a5a58"/><rect x="283" y="265" width="54" height="115" fill="#fff" stroke="#3a3a38" stroke-width="5"/><rect x="283" y="335" width="54" height="45" fill="#3a3a38"/><path d="M310 278L327 300 310 322 293 300Z" fill="#fff" stroke="#3a3a38" stroke-width="4"/><path d="M283 300H293M327 300H337M310 265V278M310 322V335" stroke="#3a3a38" stroke-width="3"/><rect x="322" y="340" width="8" height="6" fill="#aaa"/><rect x="265" y="380" width="90" height="12" fill="#6a6a68"/><rect x="252" y="392" width="116" height="13" fill="#5a5a58"/><rect x="453" y="265" width="54" height="115" fill="#fff" stroke="#3a3a38" stroke-width="5"/><rect x="453" y="335" width="54" height="45" fill="#3a3a38"/><path d="M480 278L497 300 480 322 463 300Z" fill="#fff" stroke="#3a3a38" stroke-width="4"/><path d="M453 300H463M497 300H507M480 265V278M480 322V335" stroke="#3a3a38" stroke-width="3"/><rect x="492" y="340" width="8" height="6" fill="#aaa"/><rect x="435" y="380" width="90" height="12" fill="#6a6a68"/><rect x="422" y="392" width="116" height="13" fill="#5a5a58"/></g>
<g transform="translate(345.00,398.00) scale(0.12255,0.12255)"><rect x="85" y="150" width="157" height="350" fill="#abcd91"/><rect x="73" y="58" width="172" height="95" fill="#3a3a38"/><rect x="105" y="170" width="21" height="55" fill="#fff"/><rect x="105" y="245" width="21" height="55" fill="#fff"/><rect x="105" y="335" width="21" height="55" fill="#fff"/><rect x="105" y="415" width="21" height="55" fill="#fff"/><rect x="150" y="170" width="21" height="55" fill="#fff"/><rect x="150" y="245" width="21" height="55" fill="#fff"/><rect x="150" y="335" width="21" height="55" fill="#fff"/><rect x="150" y="415" width="21" height="55" fill="#fff"/><rect x="195" y="170" width="21" height="55" fill="#fff"/><rect x="195" y="245" width="21" height="55" fill="#fff"/><rect x="195" y="335" width="21" height="55" fill="#fff"/><rect x="195" y="415" width="21" height="55" fill="#fff"/><rect x="300" y="58" width="75" height="70" fill="#abcd91"/><rect x="318" y="75" width="38" height="15" fill="#fff"/><rect x="280" y="135" width="175" height="365" fill="#abcd91"/><rect x="268" y="123" width="197" height="18" fill="#3a3a38"/><rect x="290" y="165" width="40" height="17" fill="#fff"/><rect x="345" y="165" width="40" height="17" fill="#fff"/><rect x="400" y="165" width="40" height="17" fill="#fff"/><rect x="290" y="205" width="40" height="17" fill="#fff"/><rect x="345" y="205" width="40" height="17" fill="#fff"/><rect x="290" y="245" width="40" height="17" fill="#fff"/><rect x="345" y="245" width="40" height="17" fill="#fff"/><rect x="400" y="245" width="40" height="17" fill="#fff"/><rect x="290" y="283" width="40" height="17" fill="#fff"/><rect x="345" y="283" width="40" height="17" fill="#fff"/><rect x="290" y="322" width="40" height="17" fill="#fff"/><rect x="345" y="322" width="40" height="17" fill="#fff"/><rect x="400" y="322" width="40" height="17" fill="#fff"/><rect x="290" y="362" width="40" height="17" fill="#fff"/><rect x="345" y="362" width="40" height="17" fill="#fff"/><rect x="400" y="362" width="40" height="17" fill="#fff"/><rect x="290" y="400" width="40" height="17" fill="#fff"/><rect x="345" y="400" width="40" height="17" fill="#fff"/><rect x="450" y="350" width="75" height="150" fill="#abcd91"/><rect x="450" y="335" width="88" height="22" fill="#3a3a38"/><rect x="468" y="400" width="40" height="15" fill="#fff"/><rect x="73" y="312" width="60" height="20" fill="#3a3a38"/><rect x="125" y="230" width="173" height="97" fill="#7c7c7a"/><rect x="135" y="325" width="155" height="175" fill="#3a3a38"/><rect x="155" y="345" width="24" height="45" fill="#fff"/><rect x="155" y="415" width="24" height="55" fill="#fff"/><rect x="200" y="345" width="24" height="45" fill="#fff"/><rect x="200" y="415" width="24" height="55" fill="#fff"/><rect x="245" y="345" width="24" height="45" fill="#fff"/><rect x="245" y="415" width="24" height="55" fill="#fff"/></g>
<g transform="translate(327.19,533.07) scale(0.09637,0.08663)">
<rect x="400" y="140" width="45" height="75" fill="#2e2e2c"/>
<rect x="388" y="108" width="74" height="40" rx="12" fill="#abcd91" stroke="#8a8a88" stroke-width="5"/>
<path d="M303 100L112 300V590H492V300Z" fill="#abcd91"/>
<path d="M303 55L62 308 92 322 303 112 515 322 545 308Z" fill="#7a7a78" stroke="#3a3a38" stroke-width="9" stroke-linejoin="round"/>
<circle cx="305" cy="262" r="54" fill="#fff" stroke="#2e2e2c" stroke-width="10"/>
<path d="M305 210V314M252 262H358" stroke="#2e2e2c" stroke-width="7" fill="none"/>
<rect x="185" y="368" width="77" height="222" fill="#fff" stroke="#2e2e2c" stroke-width="8"/>
<rect x="196" y="474" width="8" height="8" fill="#8a8a88"/>
<rect x="300" y="392" width="155" height="106" fill="#fff" stroke="#6a6a68" stroke-width="11"/>
<path d="M377 392V498" stroke="#6a6a68" stroke-width="11"/>
<rect x="282" y="495" width="188" height="36" fill="#7a7a78"/>
</g>
<g transform="translate(326.81,605.53) scale(0.09615,0.09650)"><rect x="52" y="125" width="510" height="280" fill="#abcd91"/><path d="M85 38H525L572 130H40Z" fill="#3a3a38"/><path d="M222 130V405M393 130V405" stroke="#3a3a38" stroke-width="4"/><path d="M79 220V165Q79 146 98 146Q117 146 117 165V220Z" fill="#fff" stroke="#3a3a38" stroke-width="4"/><path d="M79 185H117M98 146V185M79 166H117" stroke="#3a3a38" stroke-width="3.5" fill="none"/><path d="M156 220V165Q156 146 175 146Q194 146 194 165V220Z" fill="#fff" stroke="#3a3a38" stroke-width="4"/><path d="M156 185H194M175 146V185M156 166H194" stroke="#3a3a38" stroke-width="3.5" fill="none"/><path d="M246 220V165Q246 146 265 146Q284 146 284 165V220Z" fill="#fff" stroke="#3a3a38" stroke-width="4"/><path d="M246 185H284M265 146V185M246 166H284" stroke="#3a3a38" stroke-width="3.5" fill="none"/><path d="M326 220V165Q326 146 345 146Q364 146 364 165V220Z" fill="#fff" stroke="#3a3a38" stroke-width="4"/><path d="M326 185H364M345 146V185M326 166H364" stroke="#3a3a38" stroke-width="3.5" fill="none"/><path d="M418 220V165Q418 146 437 146Q456 146 456 165V220Z" fill="#fff" stroke="#3a3a38" stroke-width="4"/><path d="M418 185H456M437 146V185M418 166H456" stroke="#3a3a38" stroke-width="3.5" fill="none"/><path d="M496 220V165Q496 146 515 146Q534 146 534 165V220Z" fill="#fff" stroke="#3a3a38" stroke-width="4"/><path d="M496 185H534M515 146V185M496 166H534" stroke="#3a3a38" stroke-width="3.5" fill="none"/><rect x="113" y="265" width="54" height="115" fill="#fff" stroke="#3a3a38" stroke-width="5"/><rect x="113" y="335" width="54" height="45" fill="#3a3a38"/><path d="M140 278L157 300 140 322 123 300Z" fill="#fff" stroke="#3a3a38" stroke-width="4"/><path d="M113 300H123M157 300H167M140 265V278M140 322V335" stroke="#3a3a38" stroke-width="3"/><rect x="152" y="340" width="8" height="6" fill="#aaa"/><rect x="95" y="380" width="90" height="12" fill="#6a6a68"/><rect x="82" y="392" width="116" height="13" fill="#5a5a58"/><rect x="283" y="265" width="54" height="115" fill="#fff" stroke="#3a3a38" stroke-width="5"/><rect x="283" y="335" width="54" height="45" fill="#3a3a38"/><path d="M310 278L327 300 310 322 293 300Z" fill="#fff" stroke="#3a3a38" stroke-width="4"/><path d="M283 300H293M327 300H337M310 265V278M310 322V335" stroke="#3a3a38" stroke-width="3"/><rect x="322" y="340" width="8" height="6" fill="#aaa"/><rect x="265" y="380" width="90" height="12" fill="#6a6a68"/><rect x="252" y="392" width="116" height="13" fill="#5a5a58"/><rect x="453" y="265" width="54" height="115" fill="#fff" stroke="#3a3a38" stroke-width="5"/><rect x="453" y="335" width="54" height="45" fill="#3a3a38"/><path d="M480 278L497 300 480 322 463 300Z" fill="#fff" stroke="#3a3a38" stroke-width="4"/><path d="M453 300H463M497 300H507M480 265V278M480 322V335" stroke="#3a3a38" stroke-width="3"/><rect x="492" y="340" width="8" height="6" fill="#aaa"/><rect x="435" y="380" width="90" height="12" fill="#6a6a68"/><rect x="422" y="392" width="116" height="13" fill="#5a5a58"/></g>
<g transform="translate(324.30,661.84) scale(0.10355,0.11275)"><rect x="85" y="150" width="157" height="350" fill="#abcd91"/><rect x="73" y="58" width="172" height="95" fill="#3a3a38"/><rect x="105" y="170" width="21" height="55" fill="#fff"/><rect x="105" y="245" width="21" height="55" fill="#fff"/><rect x="105" y="335" width="21" height="55" fill="#fff"/><rect x="105" y="415" width="21" height="55" fill="#fff"/><rect x="150" y="170" width="21" height="55" fill="#fff"/><rect x="150" y="245" width="21" height="55" fill="#fff"/><rect x="150" y="335" width="21" height="55" fill="#fff"/><rect x="150" y="415" width="21" height="55" fill="#fff"/><rect x="195" y="170" width="21" height="55" fill="#fff"/><rect x="195" y="245" width="21" height="55" fill="#fff"/><rect x="195" y="335" width="21" height="55" fill="#fff"/><rect x="195" y="415" width="21" height="55" fill="#fff"/><rect x="300" y="58" width="75" height="70" fill="#abcd91"/><rect x="318" y="75" width="38" height="15" fill="#fff"/><rect x="280" y="135" width="175" height="365" fill="#abcd91"/><rect x="268" y="123" width="197" height="18" fill="#3a3a38"/><rect x="290" y="165" width="40" height="17" fill="#fff"/><rect x="345" y="165" width="40" height="17" fill="#fff"/><rect x="400" y="165" width="40" height="17" fill="#fff"/><rect x="290" y="205" width="40" height="17" fill="#fff"/><rect x="345" y="205" width="40" height="17" fill="#fff"/><rect x="290" y="245" width="40" height="17" fill="#fff"/><rect x="345" y="245" width="40" height="17" fill="#fff"/><rect x="400" y="245" width="40" height="17" fill="#fff"/><rect x="290" y="283" width="40" height="17" fill="#fff"/><rect x="345" y="283" width="40" height="17" fill="#fff"/><rect x="290" y="322" width="40" height="17" fill="#fff"/><rect x="345" y="322" width="40" height="17" fill="#fff"/><rect x="400" y="322" width="40" height="17" fill="#fff"/><rect x="290" y="362" width="40" height="17" fill="#fff"/><rect x="345" y="362" width="40" height="17" fill="#fff"/><rect x="400" y="362" width="40" height="17" fill="#fff"/><rect x="290" y="400" width="40" height="17" fill="#fff"/><rect x="345" y="400" width="40" height="17" fill="#fff"/><rect x="450" y="350" width="75" height="150" fill="#abcd91"/><rect x="450" y="335" width="88" height="22" fill="#3a3a38"/><rect x="468" y="400" width="40" height="15" fill="#fff"/><rect x="73" y="312" width="60" height="20" fill="#3a3a38"/><rect x="125" y="230" width="173" height="97" fill="#7c7c7a"/><rect x="135" y="325" width="155" height="175" fill="#3a3a38"/><rect x="155" y="345" width="24" height="45" fill="#fff"/><rect x="155" y="415" width="24" height="55" fill="#fff"/><rect x="200" y="345" width="24" height="45" fill="#fff"/><rect x="200" y="415" width="24" height="55" fill="#fff"/><rect x="245" y="345" width="24" height="45" fill="#fff"/><rect x="245" y="415" width="24" height="55" fill="#fff"/></g>
<g transform="translate(50.00,588.00) scale(0.16340,0.16340)">
<!-- girl -->
<path d="M70 395H89V478H70ZM101 395H120V478H101Z" fill="#8c8c8a"/>
<path d="M58 484Q62 472 90 472V484ZM100 472Q128 472 134 484H100Z" fill="#1c1c1a"/>
<path d="M52 275L24 368 30 385 44 380 70 300ZM138 275L160 368 154 385 140 380 118 300Z" fill="#8c8c8a"/>
<path d="M35 196A60 60 0 0 1 155 196V222Q155 245 135 246H55Q35 245 35 222Z" fill="#1c1c1a"/>
<ellipse cx="95" cy="220" rx="41" ry="38" fill="#8c8c8a"/>
<path d="M48 200Q75 195 100 168Q120 190 144 200Q140 160 95 155Q52 160 48 200Z" fill="#1c1c1a"/>
<rect x="82" y="245" width="26" height="20" fill="#8c8c8a"/>
<path d="M68 255L95 268 122 255Q142 262 145 285L132 305Q135 350 152 395Q95 415 38 395Q55 350 58 305L45 285Q48 262 68 255Z" fill="#abcd91"/>
<!-- man -->
<circle cx="230" cy="92" r="62" fill="#8c8c8a"/>
<path d="M168 92Q180 104 196 100Q212 112 230 104Q248 112 264 100Q280 104 292 92Q294 140 262 156Q230 168 198 156Q166 140 168 92Z" fill="#454543"/>
<ellipse cx="230" cy="127" rx="13" ry="6" fill="#8c8c8a"/>
<rect x="212" y="145" width="36" height="30" fill="#8c8c8a"/>
<path d="M150 340L152 200Q160 168 205 165L230 180 256 165Q300 168 308 200L315 340 292 345 285 240 280 315H182L176 240 170 345Z" fill="#abcd91"/>
<path d="M150 338h22l-2 22h-16ZM292 338h22l-4 22h-16Z" fill="#8c8c8a"/>
<path d="M186 312H276L268 472H244L232 350 218 472H194Z" fill="#1c1c1a"/>
<path d="M165 484Q172 470 218 470V484ZM244 470Q285 470 292 484H244Z" fill="#1c1c1a"/>
<!-- woman -->
<path d="M355 395H376V478H355ZM390 395H411V478H390Z" fill="#8c8c8a"/>
<path d="M340 484Q346 472 378 472V484ZM388 472Q420 472 426 484H388Z" fill="#1c1c1a"/>
<path d="M325 215L290 335 296 355 310 350 345 250ZM440 215L470 335 466 355 452 350 420 250Z" fill="#8c8c8a"/>
<path d="M320 102A63 63 0 0 1 446 102V125Q446 150 430 160H336Q320 150 320 125Z" fill="#4a4a48"/>
<ellipse cx="383" cy="130" rx="43" ry="42" fill="#8c8c8a"/>
<path d="M336 118Q365 105 385 78Q405 105 430 118Q428 70 383 62Q338 70 336 118Z" fill="#4a4a48"/>
<rect x="368" y="160" width="30" height="25" fill="#8c8c8a"/>
<path d="M345 178L383 195 420 178Q445 185 450 215L432 250Q432 320 455 395Q383 420 312 395Q335 320 335 250L318 215Q322 185 345 178Z" fill="#abcd91"/>
<!-- boy -->
<circle cx="525" cy="172" r="55" fill="#8c8c8a"/>
<path d="M470 178A55 55 0 0 1 580 172Q580 188 574 196L556 190 548 176Q510 178 490 158Q482 172 470 178Z" fill="#1c1c1a"/>
<rect x="512" y="220" width="26" height="22" fill="#8c8c8a"/>
<path d="M460 365L465 265Q472 240 505 238L525 250 546 238Q580 240 586 265L592 365 572 368 566 290 562 352H490L486 290 480 368Z" fill="#abcd91"/>
<path d="M460 362h20l-2 20h-14ZM572 362h20l-4 20h-14Z" fill="#8c8c8a"/>
<path d="M492 350H560L553 472H534L526 385 518 472H499Z" fill="#4a4a48"/>
<path d="M478 484Q484 470 518 470V484ZM534 470Q566 470 572 484H534Z" fill="#1c1c1a"/>
</g>
<g transform="translate(168.00,588.00) scale(0.16992,0.16992)"><rect x="33" y="198" width="134" height="268" fill="#abcd91"/><rect x="25" y="180" width="142" height="22" fill="#868684"/><rect x="60" y="245" width="13" height="60" fill="#fff"/><rect x="60" y="325" width="13" height="60" fill="#fff"/><rect x="98" y="245" width="13" height="60" fill="#fff"/><rect x="98" y="325" width="13" height="60" fill="#fff"/><rect x="137" y="245" width="13" height="60" fill="#fff"/><rect x="137" y="325" width="13" height="60" fill="#fff"/><rect x="165" y="160" width="122" height="310" fill="#3a3a38"/><path d="M170 85H288V165H150Z" fill="#868684"/><rect x="185" y="192" width="29" height="31" fill="#fff"/><rect x="185" y="265" width="29" height="31" fill="#fff"/><rect x="185" y="338" width="29" height="31" fill="#fff"/><rect x="241" y="192" width="29" height="31" fill="#fff"/><rect x="241" y="265" width="29" height="31" fill="#fff"/><rect x="241" y="338" width="29" height="31" fill="#fff"/><rect x="287" y="68" width="293" height="398" fill="#abcd91"/><path d="M284 38H576L586 72H274Z" fill="#868684"/><rect x="308" y="88" width="54" height="70" fill="#fff"/><rect x="308" y="172" width="54" height="68" fill="#fff"/><rect x="380" y="88" width="105" height="70" fill="#fff"/><rect x="380" y="172" width="105" height="68" fill="#fff"/><rect x="503" y="88" width="52" height="70" fill="#fff"/><rect x="503" y="172" width="52" height="68" fill="#fff"/><rect x="287" y="268" width="296" height="30" fill="#868684"/><rect x="298" y="300" width="88" height="112" fill="#fff"/><rect x="475" y="300" width="96" height="112" fill="#fff"/><rect x="393" y="298" width="78" height="168" fill="#868684"/><rect x="405" y="312" width="22" height="142" fill="#abcd91"/><rect x="436" y="312" width="22" height="142" fill="#abcd91"/></g>
</svg>
</body></html>
